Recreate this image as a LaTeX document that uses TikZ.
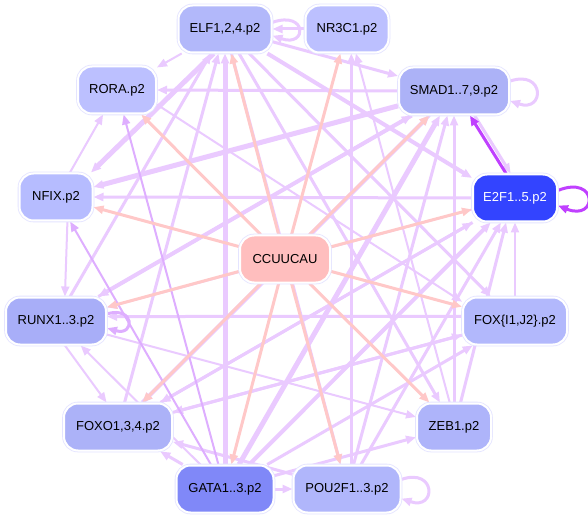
\documentclass[tikz,border=0pt]{standalone}
\usepackage{fontspec}
\setmainfont{Liberation Sans}
\usetikzlibrary{arrows.meta}
\pgfdeclarelayer{edges}
\pgfdeclarelayer{bg}
\pgfsetlayers{bg,edges,main}
\definecolor{celf}{RGB}{178,184,250}
\definecolor{cnr}{RGB}{188,192,255}
\definecolor{csmad}{RGB}{172,178,247}
\definecolor{ce2f}{RGB}{51,68,255}
\definecolor{crora}{RGB}{188,192,255}
\definecolor{cnfix}{RGB}{182,188,255}
\definecolor{crunx}{RGB}{168,174,248}
\definecolor{cfoxo}{RGB}{172,178,248}
\definecolor{cfoxi}{RGB}{178,184,252}
\definecolor{czeb}{RGB}{174,180,250}
\definecolor{cgata}{RGB}{128,136,248}
\definecolor{cpou}{RGB}{176,182,251}
\definecolor{cccu}{RGB}{255,190,190}
\definecolor{nodeline}{RGB}{228,228,255}
\definecolor{lav}{RGB}{234,202,255}
\definecolor{lavmid}{RGB}{222,174,255}
\definecolor{lavstrong}{RGB}{192,64,255}
\definecolor{pinkedge}{RGB}{255,200,200}
\tikzset{
  tf/.style={shape=rectangle, rounded corners=14pt, minimum height=47pt, inner sep=0pt,
    font=\fontsize{13}{15}\selectfont, draw=white, line width=2pt,
    preaction={draw=nodeline, line width=3.6pt}},
  pe/.style={draw=lav, line width=#1, -{Triangle[length=10pt,width=8pt]}},
  pe/.default=3pt,
  pm/.style={draw=lavmid, line width=#1, -{Triangle[length=10pt,width=8pt]}},
  pm/.default=2pt,
  ps/.style={draw=lavstrong, line width=#1, -{Triangle[length=10pt,width=8pt]}},
  ps/.default=3pt,
  ke/.style={draw=pinkedge, line width=3pt, -{Triangle[length=10pt,width=8pt]}}
}
\begin{document}
\begin{tikzpicture}[x=1pt,y=-1pt]
\path[use as bounding box] (0,0) rectangle (588,518);
\begin{pgfonlayer}{bg}
\fill[white] (0,0) rectangle (588,518);
\end{pgfonlayer}

\node[tf, fill=celf, minimum width=93pt] (elf) at (225,29) {ELF1,2,4.p2};
\node[tf, fill=cnr, minimum width=83pt] (nr3c1) at (347,29) {NR3C1.p2};
\node[tf, fill=csmad, minimum width=110pt] (smad) at (454,91) {SMAD1..7,9.p2};
\node[tf, fill=ce2f, minimum width=84pt, text=white] (e2f) at (515,198) {E2F1..5.p2};
\node[tf, fill=crora, minimum width=78pt] (rora) at (117,90) {RORA.p2};
\node[tf, fill=cnfix, minimum width=73pt] (nfix) at (56,197) {NFIX.p2};
\node[tf, fill=cccu, minimum width=90pt] (ccu) at (285,259) {CCUUCAU};
\node[tf, fill=crunx, minimum width=100pt] (runx) at (56,321) {RUNX1..3.p2};
\node[tf, fill=cfoxi, minimum width=104pt] (foxi) at (515,321) {FOX\{I1,J2\}.p2};
\node[tf, fill=cfoxo, minimum width=108pt] (foxo) at (118,427) {FOXO1,3,4.p2};
\node[tf, fill=czeb, minimum width=74pt] (zeb) at (454,427) {ZEB1.p2};
\node[tf, fill=cgata, minimum width=97pt] (gata) at (225,489) {GATA1..3.p2};
\node[tf, fill=cpou, minimum width=107pt] (pou) at (347,489) {POU2F1..3.p2};

\begin{pgfonlayer}{edges}
% TF -> TF
\draw[pe=2pt] (elf) -- (rora);
\draw[pe=3pt] (smad.west) -- (rora.east);
\draw[pe=2pt] (nfix) -- (rora);
\draw[pe=2pt] (rora.-20) -- (foxi.160);
\draw[pe=3pt] (nr3c1.west) -- (elf.east);
\draw[pe=3pt] (elf.8) .. controls +(35,-12) and +(35,12) .. (elf.-8);
\draw[pe=3pt] (elf.-15) -- (smad.165);
\draw[pe=4pt] (elf.-30) -- (e2f.155);
\draw[pe=5pt] (elf.-115) -- (nfix.35);
\draw[pe=5pt] (gata.90) -- (elf.-90);
\draw[pe=3pt] (runx) -- (elf);
\draw[pe=3pt] (foxo) -- (elf);
\draw[pe=3pt] (elf) -- (zeb);
\draw[pe=3pt] (elf) -- (pou);
\draw[pe=3pt] (elf) -- (foxi);
\draw[pe=5pt] (smad) -- (nfix);
\draw[pe=3pt] (e2f.west) -- (nfix.east);
\draw[pe=2pt] (nfix.-65) -- (runx.70);
\draw[pe=4pt] (smad) -- (runx);
\draw[pe=3pt] (smad.10) .. controls +(35,-12) and +(35,12) .. (smad.-10);
\draw[pe=3pt] (smad.-50) -- (e2f.100);
\draw[pe=5pt] (gata) -- (smad);
\draw[pe=4pt] (foxo) -- (smad);
\draw[pe=3pt] (runx) -- (smad);
\draw[pe=3pt] (pou) -- (smad);
\draw[pe=3pt] (zeb.90) -- (smad.-90);
\draw[pe=3pt] (pou.80) -- (nr3c1.-80);
\draw[pe=2pt] (zeb.100) -- (nr3c1.-70);
\draw[pe=2pt] (foxi.90) -- (e2f.-90);
\draw[pe=4pt] (gata) -- (e2f);
\draw[pe=3pt] (foxo) -- (e2f);
\draw[pe=3pt] (zeb.75) -- (e2f.-110);
\draw[pe=3pt] (pou) -- (e2f);
\draw[pe=3pt] (foxi.175) -- (runx.5);
\draw[pe=2pt] (e2f) -- (runx);
\draw[pe=2pt] (runx.-70) -- (foxo.115);
\draw[pe=2pt] (gata) -- (runx);
\draw[pe=3pt] (gata) -- (foxo);
\draw[pe=3pt] (smad) -- (foxo);
\draw[pe=3pt] (e2f) -- (foxo);
\draw[pe=3pt] (foxi) -- (foxo);
\draw[pe=3pt] (pou) -- (foxo);
\draw[pe=3pt] (gata.east) -- (pou.west);
\draw[pe=3pt] (pou.10) .. controls +(35,-12) and +(35,12) .. (pou.-10);
\draw[pe=3pt] (gata) -- (zeb);
\draw[pe=3pt] (gata) -- (foxi);
\draw[pe=3pt] (foxo) -- (foxi);
\draw[pe=2pt] (runx) -- (zeb);
\draw[pm=2pt] (gata) -- (nfix);
\draw[pm=2pt] (gata) -- (rora);
\draw[pm=3pt] (runx.8) .. controls +(28,-8) and +(28,8) .. (runx.-8);
\draw[ps=3pt] (e2f.110) -- (smad.-57);
\draw[ps=3pt] (e2f.10) .. controls +(40,-16) and +(40,16) .. (e2f.-10);
% miRNA -> TF
\foreach \t in {rora,elf,nr3c1,smad,e2f,nfix,runx,foxo,gata,pou,zeb,foxi}
  \draw[ke] (ccu) -- (\t);
\end{pgfonlayer}
\end{tikzpicture}
\end{document}
